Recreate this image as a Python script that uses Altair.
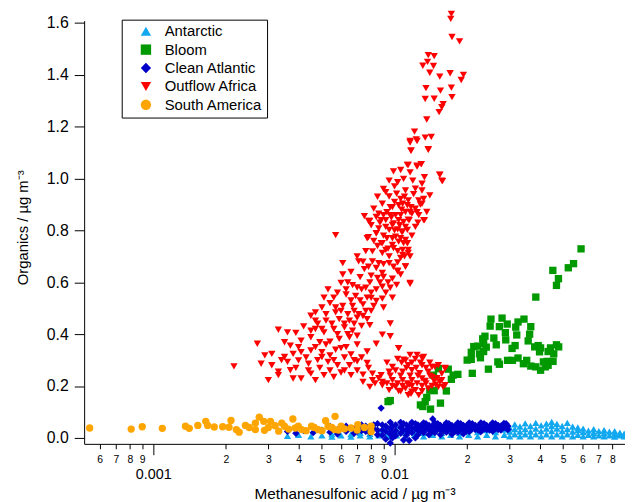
import altair as alt
import pandas as pd

# ---------------- data ----------------
categories = ["Antarctic", "Bloom", "Clean Atlantic", "Outflow Africa", "South America"]
colors = ["#12A8F0", "#009900", "#0000C8", "#FF0000", "#FFA500"]
shapes = ["triangle-up", "square", "diamond", "triangle-down", "circle"]

# Antarctic: columns of (MSA, [organics...])
antarctic = [
    (0.0036, [0.008]), (0.0040, [0.012]), (0.0045, [0.006]), (0.0050, [0.010]),
    (0.0055, [0.005, 0.015]), (0.0060, [0.010]), (0.0066, [0.005, 0.015]),
    (0.0072, [0.010, 0.020]), (0.0079, [0.006, 0.016]), (0.0086, [0.010, 0.022]),
    (0.0094, [0.005, 0.018]), (0.0102, [0.010, 0.025, 0.035]), (0.0111, [0.006, 0.020]),
    (0.0121, [0.012, 0.028]), (0.0132, [0.006, 0.020, 0.032]), (0.0144, [0.012, 0.026]),
    (0.0157, [0.006, 0.020, 0.034]), (0.0171, [0.012, 0.028]), (0.0186, [0.006, 0.020, 0.036]),
    (0.0203, [0.012, 0.030]), (0.0221, [0.006, 0.022, 0.040]), (0.0241, [0.012, 0.030]),
    (0.0262, [0.006, 0.022, 0.040]), (0.0285, [0.012, 0.032, 0.046]),
    (0.0300, [0.006, 0.024, 0.040]), (0.0315, [0.014, 0.034, 0.052]),
    (0.0331, [0.006, 0.024, 0.044]), (0.0348, [0.014, 0.034, 0.056]),
    (0.0366, [0.006, 0.024, 0.046]), (0.0385, [0.014, 0.036, 0.058]),
    (0.0405, [0.006, 0.026, 0.048]), (0.0426, [0.014, 0.036, 0.055]),
    (0.0448, [0.006, 0.026, 0.046, 0.062]), (0.0471, [0.014, 0.036, 0.054]),
    (0.0495, [0.006, 0.026, 0.046]), (0.0520, [0.014, 0.034, 0.058]),
    (0.0547, [0.006, 0.024, 0.044]), (0.0575, [0.012, 0.030, 0.040]),
    (0.0605, [0.006, 0.022, 0.036]), (0.0636, [0.012, 0.028]),
    (0.0669, [0.006, 0.020, 0.034]), (0.0703, [0.010, 0.026]),
    (0.0739, [0.006, 0.018, 0.030]), (0.0777, [0.010, 0.024]),
    (0.0817, [0.005, 0.016, 0.026]), (0.0859, [0.010, 0.020]), (0.0895, [0.006, 0.016]),
]

bloom = [
    (0.0593, 0.729), (0.0552, 0.672), (0.0525, 0.656), (0.0453, 0.646), (0.0478, 0.614),
    (0.0469, 0.588), (0.0385, 0.543), (0.0251, 0.458), (0.0279, 0.462), (0.0249, 0.431),
    (0.0272, 0.429), (0.0293, 0.439), (0.0325, 0.447), (0.0344, 0.458), (0.0318, 0.427),
    (0.0367, 0.429), (0.0288, 0.406), (0.0321, 0.397), (0.0363, 0.400), (0.0237, 0.392),
    (0.0232, 0.382), (0.0258, 0.385), (0.0289, 0.378), (0.0358, 0.374), (0.0234, 0.363),
    (0.0264, 0.359), (0.0213, 0.352), (0.0221, 0.354), (0.0240, 0.350), (0.0316, 0.356),
    (0.0307, 0.345), (0.0394, 0.356), (0.0381, 0.351), (0.0403, 0.347), (0.0469, 0.359),
    (0.0443, 0.347), (0.0479, 0.351), (0.0399, 0.332), (0.0433, 0.333), (0.0457, 0.324),
    (0.0225, 0.324), (0.0234, 0.333), (0.0227, 0.309), (0.0208, 0.303), (0.0325, 0.308),
    (0.0294, 0.299), (0.0308, 0.299), (0.0353, 0.299), (0.0268, 0.293), (0.0272, 0.284),
    (0.0342, 0.286), (0.0367, 0.277), (0.0385, 0.274), (0.0414, 0.293), (0.0429, 0.295),
    (0.0454, 0.295), (0.0403, 0.261), (0.0422, 0.274), (0.0433, 0.280), (0.0245, 0.265),
    (0.0210, 0.249), (0.0183, 0.245), (0.0175, 0.242), (0.0172, 0.226), (0.0167, 0.265),
    (0.0152, 0.267), (0.0145, 0.242), (0.0146, 0.182), (0.0140, 0.184), (0.0164, 0.181),
    (0.0136, 0.156), (0.0134, 0.140), (0.0128, 0.127), (0.0131, 0.121), (0.0155, 0.134),
    (0.0141, 0.111), (0.0096, 0.144), (0.0094, 0.140), (0.0200, 0.300), (0.0208, 0.330),
]

clean_atlantic = [
    (0.0036, [0.025]), (0.0039, [0.035, 0.018]), (0.0042, [0.028]), (0.0046, [0.040, 0.020]),
    (0.0050, [0.030]), (0.0054, [0.045, 0.022]), (0.0058, [0.032, 0.015]),
    (0.0063, [0.045, 0.025]), (0.0068, [0.035, 0.018]), (0.0070, [0.040, 0.025]),
    (0.0073, [0.050, 0.028]), (0.0076, [0.045, 0.025]), (0.0079, [0.040, 0.020]),
    (0.0082, [0.035, 0.050]), (0.0085, [0.055, 0.030, 0.012]), (0.0088, [0.115]),
    (0.0089, [0.050, 0.030, 0.010]),
    (0.0092, [0.045, 0.025, -0.005]), (0.0096, [0.060, 0.035, 0.015, -0.020]),
    (0.0098, [0.045, 0.022, 0.000]),
    (0.0101, [0.050, 0.028, 0.008]), (0.0106, [0.060, 0.040, 0.018]),
    (0.0109, [0.055, 0.030, -0.008]),
    (0.0112, [0.050, 0.030, 0.010]), (0.0115, [0.045, 0.025, -0.010]),
    (0.0118, [0.060, 0.040, 0.020]), (0.0122, [0.055, 0.035, 0.000]),
    (0.0125, [0.050, 0.030, 0.012]), (0.0128, [0.045, 0.025]),
    (0.0132, [0.058, 0.040, 0.020]), (0.0135, [0.055, 0.035]),
    (0.0139, [0.048, 0.030, 0.012]), (0.0143, [0.045, 0.025]),
    (0.0144, [0.073]), (0.0147, [0.058, 0.040, 0.020]), (0.0151, [0.055, 0.035]),
    (0.0155, [0.048, 0.030, 0.012]), (0.0160, [0.045, 0.028]),
    (0.0164, [0.058, 0.040, 0.022]), (0.0168, [0.055, 0.035]),
    (0.0173, [0.048, 0.030, 0.014]), (0.0178, [0.045, 0.025]),
    (0.0183, [0.058, 0.040, 0.022]), (0.0188, [0.055, 0.035]),
    (0.0193, [0.048, 0.030, 0.016]), (0.0198, [0.045, 0.025]),
    (0.0204, [0.058, 0.040, 0.024]), (0.0210, [0.055, 0.035]),
    (0.0216, [0.048, 0.032]), (0.0222, [0.045, 0.030]),
    (0.0228, [0.058, 0.040, 0.024]), (0.0235, [0.055, 0.035]),
    (0.0241, [0.048, 0.032]), (0.0248, [0.045, 0.030]),
    (0.0255, [0.058, 0.040, 0.026]), (0.0262, [0.055, 0.035]),
    (0.0269, [0.048, 0.032]), (0.0276, [0.045, 0.030]),
    (0.0284, [0.056, 0.040]), (0.0290, [0.055, 0.038]), (0.0295, [0.046, 0.032]),
]

outflow_africa = [
    # upper tail
    (0.0172, 1.635), (0.0171, 1.616), (0.0173, 1.546), (0.0186, 1.529), (0.0138, 1.476),
    (0.0146, 1.472), (0.0137, 1.450), (0.0131, 1.435), (0.0145, 1.434), (0.0140, 1.408),
    (0.0154, 1.393), (0.0170, 1.406), (0.0193, 1.400), (0.0189, 1.380), (0.0135, 1.349),
    (0.0155, 1.339), (0.0172, 1.351), (0.0134, 1.307), (0.0146, 1.308), (0.0173, 1.314),
    (0.0159, 1.287), (0.0157, 1.275), (0.0153, 1.256), (0.0136, 1.228), (0.0121, 1.181),
    (0.0116, 1.145), (0.0123, 1.151), (0.0134, 1.158), (0.0142, 1.161), (0.0117, 1.109),
    (0.0138, 1.111), (0.0154, 1.015), (0.0157, 0.992), (0.0114, 1.053), (0.0124, 1.050),
    (0.0129, 1.056), (0.0116, 1.139), (0.0124, 1.145), (0.0138, 1.113), (0.0117, 1.107),
    (0.0113, 1.053), (0.0129, 1.056), (0.0099, 1.028), (0.0106, 1.033), (0.0116, 1.024),
    (0.0124, 1.046), (0.0133, 1.005), (0.0154, 1.014), (0.0158, 0.990), (0.0095, 0.992),
    (0.0103, 0.986), (0.0109, 0.999), (0.0119, 0.992), (0.0130, 0.980), (0.0092, 0.948),
    (0.0102, 0.942), (0.0111, 0.954), (0.0122, 0.961), (0.0130, 0.954), (0.0140, 0.935),
    (0.0095, 0.931), (0.0106, 0.922), (0.0114, 0.916), (0.0126, 0.916), (0.0132, 0.922),
    (0.0089, 0.903), (0.0096, 0.890), (0.0104, 0.897), (0.0113, 0.897), (0.0122, 0.884),
    (0.0136, 0.871), (0.0082, 0.884), (0.0086, 0.865), (0.0096, 0.859), (0.0106, 0.859),
    (0.0116, 0.871), (0.0126, 0.859), (0.0133, 0.840), (0.0075, 0.855), (0.0078, 0.837),
    (0.0084, 0.852), (0.0092, 0.840), (0.0099, 0.827), (0.0109, 0.833), (0.0122, 0.814),
    (0.0086, 0.808), (0.0095, 0.802), (0.0103, 0.804), (0.0113, 0.802), (0.0057, 0.782),
    (0.0084, 0.789), (0.0077, 0.770), (0.0093, 0.770), (0.0101, 0.776), (0.0111, 0.763),
    (0.0088, 0.751), (0.0098, 0.744), (0.0109, 0.751),
    # dense core of the rising branch
    (0.0085, 0.930), (0.0090, 0.960), (0.0100, 0.970), (0.0110, 0.930), (0.0120, 0.940),
    (0.0128, 0.900), (0.0093, 0.870), (0.0100, 0.910), (0.0107, 0.880), (0.0117, 0.890),
    (0.0124, 0.870), (0.0080, 0.820), (0.0087, 0.830), (0.0097, 0.850), (0.0105, 0.820),
    (0.0115, 0.840), (0.0125, 0.830), (0.0082, 0.760), (0.0090, 0.780), (0.0100, 0.800),
    (0.0106, 0.770), (0.0118, 0.780), (0.0076, 0.720), (0.0085, 0.740), (0.0094, 0.730),
    (0.0103, 0.720), (0.0110, 0.700), (0.0074, 0.680), (0.0078, 0.660), (0.0090, 0.670),
    (0.0099, 0.660), (0.0106, 0.630), (0.0066, 0.640), (0.0072, 0.620), (0.0079, 0.600),
    (0.0087, 0.600), (0.0094, 0.600), (0.0102, 0.590), (0.0064, 0.600), (0.0070, 0.580),
    (0.0080, 0.560), (0.0092, 0.560), (0.0058, 0.560), (0.0066, 0.530), (0.0072, 0.530),
    (0.0080, 0.540), (0.0054, 0.520), (0.0060, 0.490), (0.0068, 0.490), (0.0076, 0.490),
    (0.0048, 0.440), (0.0055, 0.440), (0.0062, 0.440), (0.0068, 0.440), (0.0074, 0.470),
    (0.0042, 0.430), (0.0050, 0.420), (0.0058, 0.400), (0.0064, 0.400), (0.0040, 0.350),
    (0.0047, 0.350), (0.0052, 0.360), (0.0057, 0.340), (0.0063, 0.350), (0.0070, 0.360),
    (0.0043, 0.310), (0.0048, 0.300), (0.0056, 0.300), (0.0062, 0.310), (0.0068, 0.300),
    (0.0073, 0.310), (0.0031, 0.280), (0.0034, 0.300), (0.0039, 0.270), (0.0044, 0.260),
    (0.0049, 0.270), (0.0054, 0.260), (0.0062, 0.260), (0.0070, 0.260), (0.0078, 0.270),
    # middle of the rising branch
    (0.0098, 0.890), (0.0108, 0.903), (0.0130, 0.903), (0.0090, 0.859), (0.0101, 0.859),
    (0.0111, 0.871), (0.0118, 0.865), (0.0079, 0.837), (0.0088, 0.840), (0.0104, 0.840),
    (0.0114, 0.842), (0.0132, 0.840), (0.0092, 0.814), (0.0098, 0.821), (0.0111, 0.814),
    (0.0084, 0.789), (0.0108, 0.795), (0.0078, 0.774), (0.0089, 0.751), (0.0098, 0.770),
    (0.0113, 0.751), (0.0092, 0.725), (0.0099, 0.732), (0.0114, 0.725), (0.0081, 0.719),
    (0.0089, 0.713), (0.0095, 0.700), (0.0108, 0.706), (0.0116, 0.700), (0.0070, 0.700),
    (0.0071, 0.681), (0.0081, 0.681), (0.0086, 0.674), (0.0095, 0.674), (0.0103, 0.677),
    (0.0111, 0.661), (0.0061, 0.674), (0.0075, 0.651), (0.0084, 0.655), (0.0089, 0.636),
    (0.0103, 0.645), (0.0080, 0.626), (0.0085, 0.617), (0.0090, 0.621), (0.0098, 0.614),
    (0.0116, 0.594), (0.0061, 0.630), (0.0067, 0.589), (0.0073, 0.573), (0.0076, 0.579),
    (0.0084, 0.573), (0.0089, 0.583), (0.0096, 0.579), (0.0060, 0.598), (0.0063, 0.573),
    (0.0053, 0.573), (0.0056, 0.541), (0.0063, 0.553), (0.0069, 0.547), (0.0077, 0.541),
    (0.0084, 0.528), (0.0089, 0.537), (0.0098, 0.541), (0.0051, 0.541), (0.0050, 0.503),
    (0.0057, 0.503), (0.0061, 0.509), (0.0067, 0.509), (0.0074, 0.515), (0.0082, 0.509),
    (0.0090, 0.503), (0.0047, 0.484), (0.0052, 0.477), (0.0057, 0.484), (0.0064, 0.477),
    (0.0071, 0.477), (0.0080, 0.490), (0.0045, 0.471), (0.0047, 0.452), (0.0052, 0.452),
    (0.0059, 0.458), (0.0065, 0.452), (0.0070, 0.464), (0.0077, 0.458), (0.0096, 0.441),
    (0.0107, 0.795), (0.0104, 0.757), (0.0113, 0.751), (0.0108, 0.725), (0.0114, 0.713),
    (0.0106, 0.694), (0.0111, 0.661), (0.0103, 0.642), (0.0116, 0.598),
    # lower-left of the rising branch
    (0.0033, 0.417), (0.0036, 0.407), (0.0039, 0.405), (0.0045, 0.413), (0.0047, 0.420),
    (0.0051, 0.407), (0.0056, 0.420), (0.0062, 0.426), (0.0067, 0.413), (0.0073, 0.432),
    (0.0079, 0.435), (0.0089, 0.398), (0.0096, 0.392), (0.0035, 0.369), (0.0037, 0.356),
    (0.0041, 0.375), (0.0045, 0.388), (0.0049, 0.369), (0.0054, 0.371), (0.0059, 0.382),
    (0.0065, 0.388), (0.0070, 0.394), (0.0084, 0.363), (0.0104, 0.346), (0.0027, 0.363),
    (0.0029, 0.318), (0.0031, 0.324), (0.0035, 0.312), (0.0038, 0.324), (0.0041, 0.331),
    (0.0045, 0.337), (0.0050, 0.331), (0.0054, 0.318), (0.0060, 0.346), (0.0066, 0.322),
    (0.0077, 0.333), (0.00216, 0.276), (0.0028, 0.286), (0.0030, 0.223), (0.0033, 0.255),
    (0.0036, 0.293), (0.0040, 0.299), (0.0044, 0.286), (0.0050, 0.312), (0.0053, 0.293),
    (0.0058, 0.280), (0.0065, 0.280), (0.0070, 0.295), (0.0077, 0.289), (0.0093, 0.290),
    (0.0103, 0.305), (0.0037, 0.261), (0.0041, 0.229), (0.0045, 0.248), (0.0047, 0.223),
    (0.0051, 0.242), (0.0056, 0.235), (0.0060, 0.252), (0.0066, 0.242), (0.0074, 0.244),
    (0.0081, 0.248), (0.0088, 0.242), (0.0095, 0.255), (0.0033, 0.242), (0.0038, 0.229),
    # lower horizontal branch
    (0.0109, 0.302), (0.0122, 0.305), (0.0132, 0.312), (0.0114, 0.280), (0.0130, 0.280),
    (0.0147, 0.274), (0.0162, 0.267), (0.0098, 0.274), (0.0108, 0.255), (0.0118, 0.261),
    (0.0138, 0.255), (0.0157, 0.248), (0.0074, 0.216), (0.0081, 0.223), (0.0089, 0.216),
    (0.0098, 0.223), (0.0108, 0.223), (0.0118, 0.223), (0.0130, 0.229), (0.0143, 0.235),
    (0.0157, 0.223), (0.0079, 0.197), (0.0089, 0.203), (0.0101, 0.197), (0.0111, 0.191),
    (0.0122, 0.184), (0.0138, 0.191), (0.0152, 0.197), (0.0162, 0.203), (0.0114, 0.165),
    (0.0126, 0.165), (0.0104, 0.181), (0.0095, 0.184), (0.0104, 0.346), (0.0111, 0.299),
    (0.0130, 0.308), (0.0143, 0.274), (0.0162, 0.270), (0.0154, 0.216), (0.0159, 0.197),
    (0.0118, 0.178), (0.0125, 0.240), (0.0135, 0.210), (0.0148, 0.205), (0.0115, 0.205),
    (0.0083, 0.210), (0.0093, 0.210), (0.0103, 0.210), (0.0113, 0.210), (0.0124, 0.210),
    (0.0134, 0.220), (0.0146, 0.220), (0.0086, 0.230), (0.0096, 0.240), (0.0106, 0.240),
    (0.0116, 0.240), (0.0127, 0.250), (0.0140, 0.240), (0.0150, 0.230), (0.0101, 0.260),
    (0.0112, 0.270), (0.0123, 0.270), (0.0135, 0.270), (0.0107, 0.290), (0.0118, 0.290),
    (0.0128, 0.290), (0.0140, 0.290), (0.0152, 0.280), (0.0098, 0.200), (0.0108, 0.200),
    (0.0118, 0.200), (0.0130, 0.200), (0.0143, 0.200), (0.0106, 0.180), (0.0117, 0.170),
    (0.0130, 0.180), (0.0124, 0.320), (0.0116, 0.320),
]

south_america = [
    (0.000545, 0.038), (0.00081, 0.034), (0.00090, 0.043), (0.00109, 0.037), (0.00136, 0.045),
    (0.00141, 0.037), (0.00153, 0.048), (0.00165, 0.064), (0.00168, 0.048), (0.00179, 0.042),
    (0.00194, 0.043), (0.00210, 0.067), (0.00206, 0.041), (0.00221, 0.032), (0.00227, 0.022),
    (0.00241, 0.048), (0.00265, 0.057), (0.00275, 0.080), (0.00287, 0.064), (0.00306, 0.064),
    (0.00265, 0.032), (0.00289, 0.029), (0.00320, 0.047), (0.00341, 0.057), (0.00379, 0.073),
    (0.00364, 0.034), (0.00331, 0.026), (0.00399, 0.045), (0.00412, 0.032), (0.00453, 0.045),
    (0.00482, 0.032), (0.00518, 0.066), (0.00530, 0.045), (0.00567, 0.083), (0.00564, 0.032),
    (0.00601, 0.045), (0.00660, 0.038), (0.00704, 0.051), (0.00800, 0.045), (0.00800, 0.024),
    (0.00388, 0.038), (0.00430, 0.028), (0.00465, 0.040), (0.00500, 0.028), (0.00550, 0.040),
    (0.00585, 0.030), (0.00620, 0.035), (0.00700, 0.030), (0.00750, 0.040), (0.00300, 0.040),
    (0.00350, 0.045), (0.00250, 0.040),
]

x_major_ticks = [0.001, 0.01]
x_minor_ticks = [0.0006, 0.0007, 0.0008, 0.0009,
                 0.002, 0.003, 0.004, 0.005, 0.006, 0.007, 0.008, 0.009,
                 0.02, 0.03, 0.04, 0.05, 0.06, 0.07, 0.08]
y_ticks = [0.0, 0.2, 0.4, 0.6, 0.8, 1.0, 1.2, 1.4, 1.6]

# ---------------- table ----------------
rows = []
for x, ys in antarctic:
    for y in ys:
        rows.append(("Antarctic", x, y))
for x, y in bloom:
    rows.append(("Bloom", x, y))
for x, ys in clean_atlantic:
    for y in ys:
        rows.append(("Clean Atlantic", x, y))
for x, y in outflow_africa:
    rows.append(("Outflow Africa", x, y))
for x, y in south_america:
    rows.append(("South America", x, y))
df = pd.DataFrame(rows, columns=["site", "msa", "org"])
df["order"] = range(len(df))

FONT = "Liberation Sans"
major_test = " || ".join(f"datum.value == {v}" for v in x_major_ticks)
label_expr = (
    f"({major_test}) ? format(datum.value, '') : "
    "'' + round(datum.value / pow(10, floor(log(datum.value) / LN10 + 1e-6)))"
)

x_axis = alt.Axis(
    values=sorted(x_major_ticks + x_minor_ticks),
    labelExpr=label_expr,
    labelOverlap=False,
    labelFlush=False,
    grid=False,
    domainColor="black",
    tickColor="black",
    labelColor="black",
    tickSize={"condition": {"test": major_test, "value": 11}, "value": 5},
    labelFontSize={"condition": {"test": major_test, "value": 14.5}, "value": 10.5},
    labelPadding={"condition": {"test": major_test, "value": 13}, "value": 6},
    labelFont=FONT,
    title="Methanesulfonic acid / µg m⁻³",
    titleFont=FONT,
    titleFontSize=15.5,
    titleFontWeight="normal",
    titleColor="black",
    titlePadding=6,
)

y_axis = alt.Axis(
    values=y_ticks,
    format=".1f",
    grid=False,
    domainColor="black",
    tickColor="black",
    labelColor="black",
    tickSize=10,
    labelPadding=6,
    labelFontSize=16,
    labelFont=FONT,
    title="Organics / µg m⁻³",
    titleFont=FONT,
    titleFontSize=15,
    titleFontWeight="normal",
    titleColor="black",
    titlePadding=16,
    titleY=209,
)

legend = alt.Legend(
    title=None,
    orient="none",
    legendX=38,
    legendY=-1,
    strokeColor="black",
    fillColor="white",
    padding=4.2,
    symbolOffset=12.8,
    labelOffset=11.5,
    symbolSize=110,
    symbolStrokeWidth=0,
    labelFont=FONT,
    labelFontSize=15,
    labelColor="black",
    rowPadding=2.6,
)

chart = (
    alt.Chart(df)
    .mark_point(filled=True, size=55, opacity=1, strokeWidth=0)
    .encode(
        x=alt.X("msa:Q", scale=alt.Scale(type="log", domain=[0.000517, 0.0902], nice=False), axis=x_axis),
        y=alt.Y("org:Q", scale=alt.Scale(domain=[-0.023, 1.609], nice=False, zero=False), axis=y_axis),
        color=alt.Color("site:N", scale=alt.Scale(domain=categories, range=colors), legend=legend),
        shape=alt.Shape("site:N", scale=alt.Scale(domain=categories, range=shapes), legend=legend),
        order=alt.Order("order:Q"),
    )
    .properties(
        width=547,
        height=428,
        autosize=alt.AutoSizeParams(type="none"),
        padding={"left": 77, "top": 10, "right": 0, "bottom": 56},
        background="white",
    )
    .configure_view(stroke=None)
)

chart.save("out.html", embed_options={"renderer": "svg", "actions": False})
